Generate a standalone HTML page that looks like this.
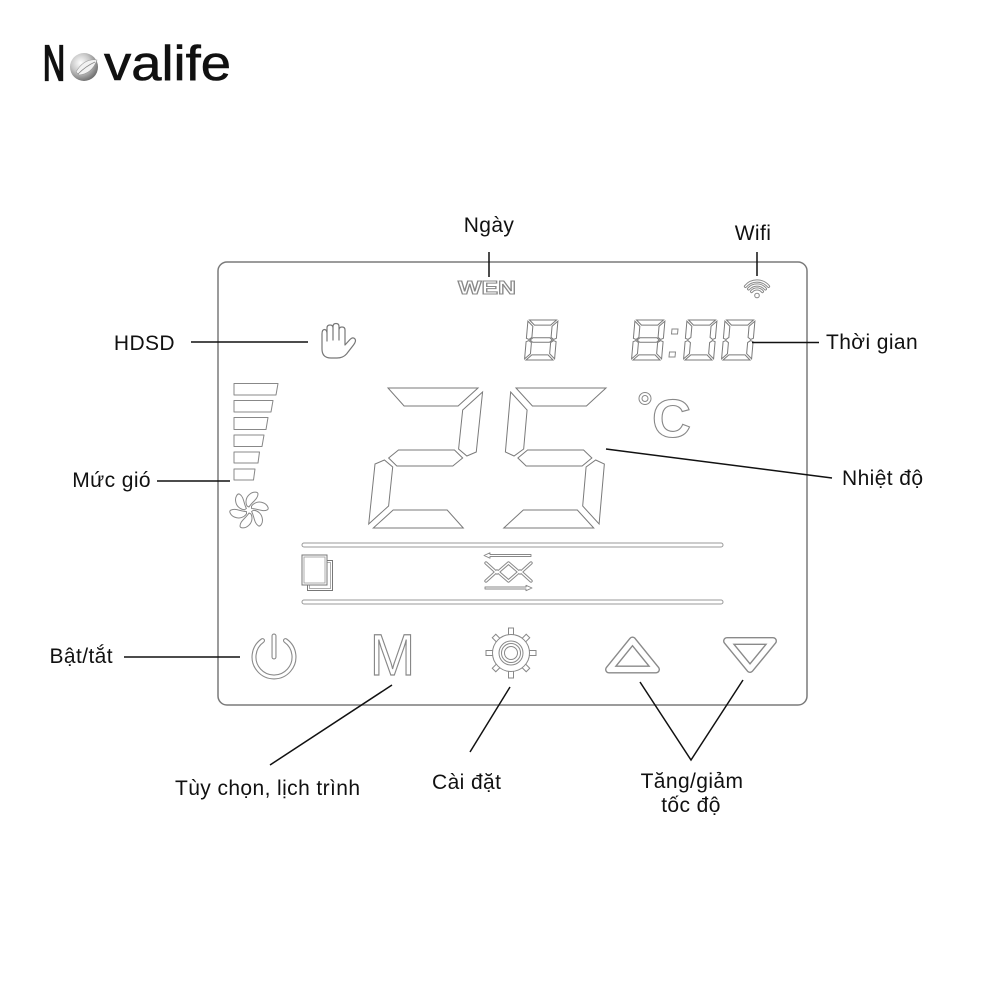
<!DOCTYPE html>
<html>
<head>
<meta charset="utf-8">
<style>
html,body{margin:0;padding:0;background:#fff;}
svg{display:block;}
.lbl{font-family:"Liberation Sans","DejaVu Sans",sans-serif;font-size:21px;fill:#111;letter-spacing:0.4px;}
.con{stroke:#111;stroke-width:1.5;fill:none;}
.seg use{fill:#fff;stroke:#7a7a7a;stroke-width:1;}
.o1{fill:none;stroke:#8a8a8a;stroke-linecap:round;stroke-linejoin:round;}
.o2{fill:none;stroke:#fff;stroke-linecap:round;stroke-linejoin:round;}
</style>
</head>
<body>
<svg width="1000" height="1000" viewBox="0 0 1000 1000" xmlns="http://www.w3.org/2000/svg">
<defs>
  <polygon id="sA" vector-effect="non-scaling-stroke" points="5,0 95,0 77,18 23,18"/>
  <polygon id="sB" vector-effect="non-scaling-stroke" points="100,4 100,64 91,68 82,61 82,22"/>
  <polygon id="sC" vector-effect="non-scaling-stroke" points="91,72 100,76 100,136 82,118 82,79"/>
  <polygon id="sD" vector-effect="non-scaling-stroke" points="23,122 77,122 95,140 5,140"/>
  <polygon id="sE" vector-effect="non-scaling-stroke" points="0,136 0,76 9,72 18,79 18,118"/>
  <polygon id="sF" vector-effect="non-scaling-stroke" points="0,4 18,22 18,61 9,68 0,64"/>
  <polygon id="sG" vector-effect="non-scaling-stroke" points="13,70 22,62 78,62 87,70 78,78 22,78"/>
  <radialGradient id="ball" cx="0.38" cy="0.35" r="0.75">
    <stop offset="0" stop-color="#ffffff"/>
    <stop offset="0.45" stop-color="#c8c8c8"/>
    <stop offset="1" stop-color="#5a5a5a"/>
  </radialGradient>
</defs>

<!-- Logo -->
<text x="43" y="80" font-family="Liberation Sans, sans-serif" font-size="49" fill="#111" stroke="#111" stroke-width="2.2" textLength="22" lengthAdjust="spacingAndGlyphs">N</text>
<circle cx="84" cy="67" r="14" fill="url(#ball)"/>
<path d="M76,72 Q84,58 97,60 Q92,74 79,75 Z" fill="#f2f2f2" stroke="#999" stroke-width="0.6"/>
<path d="M78,74 Q86,66 95,62" fill="none" stroke="#888" stroke-width="0.8"/>
<text x="104" y="80" font-family="Liberation Sans, sans-serif" font-size="49" fill="#111" stroke="#111" stroke-width="0.6" textLength="127" lengthAdjust="spacingAndGlyphs">valife</text>

<!-- Device frame -->
<rect x="218" y="262" width="589" height="443" rx="9" ry="9" fill="none" stroke="#7a7a7a" stroke-width="1.5"/>

<!-- WEN -->
<text x="458" y="294" font-family="Liberation Sans, sans-serif" font-weight="bold" font-size="18" fill="#fff" stroke="#888" stroke-width="1" textLength="58" lengthAdjust="spacingAndGlyphs">WEN</text>

<!-- Wifi icon -->
<g>
  <path class="o1" stroke-width="3.2" d="M751.6,291.5 A7,7 0 0 1 762.4,291.5"/>
  <path class="o1" stroke-width="3.2" d="M748.6,288.9 A11,11 0 0 1 765.4,288.9"/>
  <path class="o1" stroke-width="3.2" d="M745.5,286.4 A15,15 0 0 1 768.5,286.4"/>
  <path class="o2" stroke-width="1.2" d="M751.6,291.5 A7,7 0 0 1 762.4,291.5"/>
  <path class="o2" stroke-width="1.2" d="M748.6,288.9 A11,11 0 0 1 765.4,288.9"/>
  <path class="o2" stroke-width="1.2" d="M745.5,286.4 A15,15 0 0 1 768.5,286.4"/>
  <circle cx="757" cy="295.5" r="2.3" fill="#fff" stroke="#888" stroke-width="1"/>
</g>

<!-- Hand icon -->
<path d="M322,346 L322,334 Q322,329.5 324.5,329.5 Q327,329.5 327,334 L327,341 L327,328 Q327,325 330,325 Q333,325 333,328 L333,340 L333,326.5 Q333,323.5 336,323.5 Q339,323.5 339,326.5 L339,340 L339,330 Q339,327 342,327 Q345,327 345,330 L345,345 L350,339.5 Q353,336.5 355,339 Q356.5,341 353.5,345 L346.5,354 Q343,358 337,358 L331,358 Q322,358 322,349 Z" fill="#fff" stroke="#777" stroke-width="1.2" stroke-linejoin="round"/>

<!-- Small digits -->
<g class="seg" transform="translate(528,320) skewX(-5) scale(0.3,0.2857)">
  <use href="#sA"/><use href="#sB"/><use href="#sC"/><use href="#sD"/><use href="#sE"/><use href="#sF"/><use href="#sG"/>
</g>
<g class="seg" transform="translate(635,320) skewX(-5) scale(0.3,0.2857)">
  <use href="#sA"/><use href="#sB"/><use href="#sC"/><use href="#sD"/><use href="#sE"/><use href="#sF"/><use href="#sG"/>
</g>
<g class="seg" transform="translate(687,320) skewX(-5) scale(0.3,0.2857)">
  <use href="#sA"/><use href="#sB"/><use href="#sC"/><use href="#sD"/><use href="#sE"/><use href="#sF"/>
</g>
<g class="seg" transform="translate(725,320) skewX(-5) scale(0.3,0.2857)">
  <use href="#sA"/><use href="#sB"/><use href="#sC"/><use href="#sD"/><use href="#sE"/><use href="#sF"/>
</g>
<polygon points="672,329 678,329 677.5,334 671.5,334" fill="#fff" stroke="#888" stroke-width="1"/>
<polygon points="669.5,352 675.5,352 675,357 669,357" fill="#fff" stroke="#888" stroke-width="1"/>

<!-- Big digits 2 5 -->
<g class="seg" transform="translate(383,388) skewX(-6)">
  <use href="#sA"/><use href="#sB"/><use href="#sG"/><use href="#sE"/><use href="#sD"/>
</g>
<g class="seg" transform="translate(511,388) skewX(-5)">
  <use href="#sA"/><use href="#sF"/><use href="#sG"/><use href="#sC"/><use href="#sD"/>
</g>

<!-- degree C -->
<circle cx="645" cy="398.5" r="6" fill="none" stroke="#888" stroke-width="1"/>
<circle cx="645" cy="398.5" r="3" fill="none" stroke="#888" stroke-width="1"/>
<text x="652" y="437" font-family="Liberation Sans, sans-serif" font-weight="bold" font-size="54" fill="#fff" stroke="#888" stroke-width="1.1">C</text>

<!-- Wind level bars -->
<g fill="#fff" stroke="#888" stroke-width="1" stroke-linejoin="round">
  <path d="M234,383.5 L278,383.5 L276,395 L234,395 Z"/>
  <path d="M234,400.5 L273,400.5 L271,412 L234,412 Z"/>
  <path d="M234,417.5 L268,417.5 L266,429.5 L234,429.5 Z"/>
  <path d="M234,435 L264,435 L262,446.5 L234,446.5 Z"/>
  <path d="M234,452 L259.5,452 L258,463 L234,463 Z"/>
  <path d="M234,469 L255,469 L253.5,480 L234,480 Z"/>
</g>

<!-- Fan icon (pinwheel) -->
<g transform="translate(249,510)" fill="#fff" stroke="#888" stroke-width="1" stroke-linejoin="round">
  <path d="M0,-3 C3,-8 9,-11 9,-16 C9,-18.5 4,-18.5 1,-16 C-3,-13 -4,-8 -2,-4 Z"/>
  <path transform="rotate(60)" d="M0,-3 C3,-8 9,-11 9,-16 C9,-18.5 4,-18.5 1,-16 C-3,-13 -4,-8 -2,-4 Z"/>
  <path transform="rotate(120)" d="M0,-3 C3,-8 9,-11 9,-16 C9,-18.5 4,-18.5 1,-16 C-3,-13 -4,-8 -2,-4 Z"/>
  <path transform="rotate(180)" d="M0,-3 C3,-8 9,-11 9,-16 C9,-18.5 4,-18.5 1,-16 C-3,-13 -4,-8 -2,-4 Z"/>
  <path transform="rotate(240)" d="M0,-3 C3,-8 9,-11 9,-16 C9,-18.5 4,-18.5 1,-16 C-3,-13 -4,-8 -2,-4 Z"/>
  <path transform="rotate(300)" d="M0,-3 C3,-8 9,-11 9,-16 C9,-18.5 4,-18.5 1,-16 C-3,-13 -4,-8 -2,-4 Z"/>
</g>

<!-- Horizontal bars -->
<rect x="302" y="543" width="421" height="4" rx="2" fill="#fff" stroke="#999" stroke-width="1"/>
<rect x="302" y="600" width="421" height="4" rx="2" fill="#fff" stroke="#999" stroke-width="1"/>

<!-- Copy icon -->
<rect x="307.5" y="560.5" width="25" height="30" fill="#fff" stroke="#777" stroke-width="1"/>
<rect x="309.5" y="562.5" width="21" height="26" fill="none" stroke="#999" stroke-width="0.8"/>
<rect x="302" y="555" width="25" height="30" fill="#fff" stroke="#777" stroke-width="1"/>
<rect x="304" y="557" width="21" height="26" fill="none" stroke="#999" stroke-width="0.8"/>

<!-- Swing icon -->
<g fill="#fff" stroke="#888" stroke-width="0.9" stroke-linejoin="round">
  <path d="M484,555.5 L490,552.8 L490,554.5 L531,554.5 L531,556.5 L490,556.5 L490,558.2 Z"/>
  <path d="M532,588 L526,585.3 L526,587 L485,587 L485,589 L526,589 L526,590.7 Z"/>
</g>
<polyline class="o1" stroke-width="3.4" points="486,563 497,573 508.5,563 520,573 531,563"/>
<polyline class="o1" stroke-width="3.4" points="486,581 497,571 508.5,581 520,571 531,581"/>
<polyline class="o2" stroke-width="1.4" points="486,563 497,573 508.5,563 520,573 531,563"/>
<polyline class="o2" stroke-width="1.4" points="486,581 497,571 508.5,581 520,571 531,581"/>

<!-- Power button -->
<path class="o1" stroke-width="5" d="M262.5,640.6 A20,20 0 1 0 285.5,640.6"/>
<line class="o1" stroke-width="5" x1="274" y1="636" x2="274" y2="657"/>
<path class="o2" stroke-width="2.8" d="M262.5,640.6 A20,20 0 1 0 285.5,640.6"/>
<line class="o2" stroke-width="2.8" x1="274" y1="636" x2="274" y2="657"/>

<!-- M button -->
<text x="392.5" y="675" text-anchor="middle" font-family="Liberation Sans, sans-serif" font-size="58" fill="#fff" stroke="#888" stroke-width="1.2" textLength="45" lengthAdjust="spacingAndGlyphs">M</text>

<!-- Gear -->
<g transform="translate(511,653)">
  <g fill="#fff" stroke="#888" stroke-width="1">
    <rect x="-2.5" y="-25" width="5" height="9"/>
    <rect x="-2.5" y="-24" width="5" height="8" transform="rotate(45)"/>
    <rect x="-2.5" y="-25" width="5" height="9" transform="rotate(90)"/>
    <rect x="-2.5" y="-24" width="5" height="8" transform="rotate(135)"/>
    <rect x="-2.5" y="-25" width="5" height="9" transform="rotate(180)"/>
    <rect x="-2.5" y="-24" width="5" height="8" transform="rotate(225)"/>
    <rect x="-2.5" y="-25" width="5" height="9" transform="rotate(270)"/>
    <rect x="-2.5" y="-24" width="5" height="8" transform="rotate(315)"/>
  </g>
  <circle r="18.5" fill="#fff" stroke="#888" stroke-width="1"/>
  <circle r="17.6" fill="#fff" stroke="none"/>
  <circle r="12" fill="none" stroke="#888" stroke-width="1"/>
  <circle r="8" class="o1" stroke-width="4"/>
  <circle r="8" class="o2" stroke-width="2"/>
</g>

<!-- Up / Down triangles -->
<polygon class="o1" stroke-width="8" points="632.5,640.5 656,669.5 609,669.5"/>
<polygon class="o2" stroke-width="5.2" points="632.5,640.5 656,669.5 609,669.5"/>
<polygon class="o1" stroke-width="8" points="727,641 773,641 750,669"/>
<polygon class="o2" stroke-width="5.2" points="727,641 773,641 750,669"/>

<!-- Connectors -->
<line class="con" x1="489" y1="252" x2="489" y2="277"/>
<line class="con" x1="757" y1="252" x2="757" y2="276"/>
<line class="con" x1="191" y1="342" x2="308" y2="342"/>
<line class="con" x1="752" y1="342.5" x2="819" y2="342.5"/>
<line class="con" x1="157" y1="481" x2="230" y2="481"/>
<line class="con" x1="606" y1="449" x2="832" y2="478"/>
<line class="con" x1="124" y1="657" x2="240" y2="657"/>
<line class="con" x1="392" y1="685" x2="270" y2="765"/>
<line class="con" x1="510" y1="687" x2="470" y2="752"/>
<polyline class="con" points="640,682 691,760 743,680"/>

<!-- Labels -->
<text class="lbl" x="489" y="232" text-anchor="middle">Ngày</text>
<text class="lbl" x="753" y="240" text-anchor="middle">Wifi</text>
<text class="lbl" x="175" y="350" text-anchor="end">HDSD</text>
<text class="lbl" x="151" y="487" text-anchor="end">Mức gió</text>
<text class="lbl" x="113" y="663" text-anchor="end">Bật/tắt</text>
<text class="lbl" x="826" y="349">Thời gian</text>
<text class="lbl" x="842" y="485">Nhiệt độ</text>
<text class="lbl" x="175" y="795">Tùy chọn, lịch trình</text>
<text class="lbl" x="432" y="789">Cài đặt</text>
<text class="lbl" x="692" y="788" text-anchor="middle">Tăng/giảm</text>
<text class="lbl" x="691" y="812" text-anchor="middle">tốc độ</text>
</svg>
</body>
</html>
